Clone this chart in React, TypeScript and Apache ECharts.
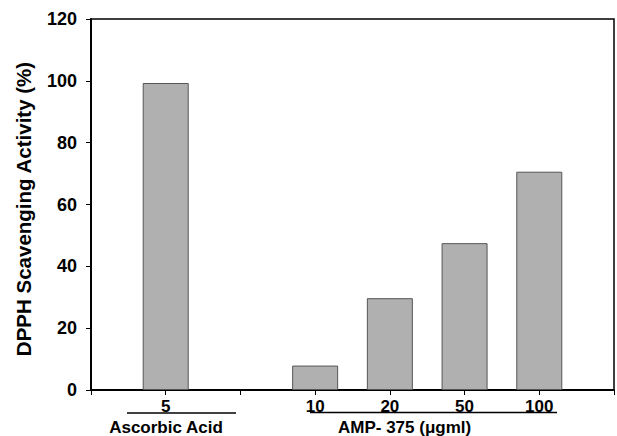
import React, { useEffect, useRef } from "react";
import * as echarts from "echarts";

const positions = [1, 3, 4, 5, 6];
const categoryLabels = ["5", "10", "20", "50", "100"];
const scavenging = [99.3, 7.9, 29.7, 47.5, 70.6];
const yTicks = [0, 20, 40, 60, 80, 100, 120];
const groupLabels = ["Ascorbic Acid", "AMP- 375 (\u03bcgml)"];

export default function App() {
  const ref = useRef<HTMLDivElement>(null);
  useEffect(() => {
    if (!ref.current) return;
    const chart = echarts.init(ref.current, undefined, { renderer: "svg" });
    const labelMap: Record<number, string> = {};
    positions.forEach((p, i) => (labelMap[p] = categoryLabels[i]));
    const font = "Liberation Sans, Arial, sans-serif";
    chart.setOption({
      animation: false,
      backgroundColor: "#fff",
      grid: {
        left: 91,
        right: 1,
        top: 19,
        bottom: 46,
        show: true,
        borderColor: "#000",
        borderWidth: 1.5,
      },
      xAxis: {
        type: "value",
        min: 0,
        max: 7,
        interval: 1,
        splitLine: { show: false },
        axisLine: { show: true, lineStyle: { color: "#000", width: 2 } },
        axisTick: { show: true, length: 5, lineStyle: { color: "#000" } },
        axisLabel: {
          margin: 8,
          color: "#000",
          fontFamily: font,
          fontWeight: "bold",
          fontSize: 17,
          formatter: (v: number) => labelMap[v] ?? "",
          showMinLabel: true,
          showMaxLabel: true,
        },
      },
      yAxis: {
        type: "value",
        min: 0,
        max: 120,
        interval: 20,
        splitLine: { show: false },
        axisLine: { show: true, lineStyle: { color: "#000", width: 2 } },
        axisTick: { show: true, length: 5, lineStyle: { color: "#000" } },
        axisLabel: {
          margin: 14,
          color: "#000",
          fontFamily: font,
          fontWeight: "bold",
          fontSize: 18,
          formatter: (v: number) => (yTicks.includes(v) ? String(v) : ""),
        },
      },
      series: [
        {
          type: "bar",
          barWidth: 46,
          data: positions.map((p, i) => [p, scavenging[i]]),
          itemStyle: { color: "#b0b0b0", borderColor: "#555", borderWidth: 1 },
        },
      ],
      graphic: [
        {
          type: "text",
          x: 23,
          y: 209,
          rotation: Math.PI / 2,
          style: {
            text: "DPPH Scavenging Activity (%)",
            fontFamily: font,
            fontWeight: "bold",
            fontSize: 20.5,
            fill: "#000",
            align: "center",
            verticalAlign: "middle",
          },
        },
        {
          type: "line",
          shape: { x1: 127, y1: 413, x2: 236, y2: 413 },
          style: { stroke: "#000", lineWidth: 1.5 },
        },
        {
          type: "line",
          shape: { x1: 310, y1: 412.5, x2: 557, y2: 412.5 },
          style: { stroke: "#000", lineWidth: 1.5 },
        },
        {
          type: "text",
          x: 166,
          y: 427,
          style: {
            text: groupLabels[0],
            fontFamily: font,
            fontWeight: "bold",
            fontSize: 17,
            fill: "#000",
            align: "center",
            verticalAlign: "middle",
          },
        },
        {
          type: "text",
          x: 338,
          y: 427,
          style: {
            text: groupLabels[1],
            fontFamily: font,
            fontWeight: "bold",
            fontSize: 17,
            fill: "#000",
            align: "left",
            verticalAlign: "middle",
          },
        },
      ],
    });
    return () => chart.dispose();
  }, []);
  return <div ref={ref} style={{ width: 617, height: 436, position: "fixed", left: 0, top: 0 }} />;
}
